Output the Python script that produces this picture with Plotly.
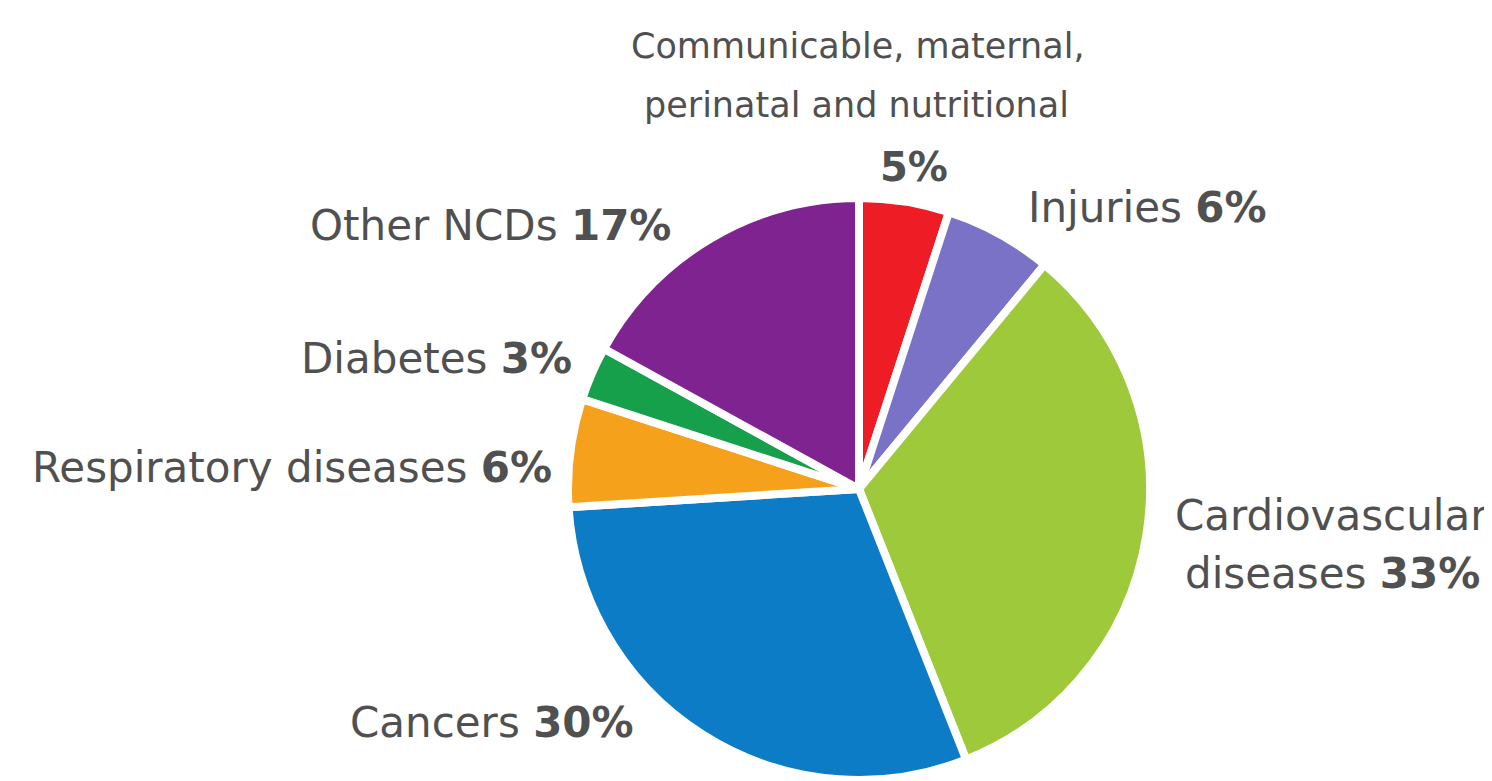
import plotly.graph_objects as go

categories = ["Communicable, maternal, perinatal and nutritional", "Injuries",
              "Cardiovascular diseases", "Cancers", "Respiratory diseases",
              "Diabetes", "Other NCDs"]
values = [5, 6, 33, 30, 6, 3, 17]
colors = ["#ee1c25", "#7a72c6", "#9dc93a", "#0c7cc6", "#f6a11c", "#17a04b", "#7f2391"]
# label text lines (name part, bold percent part)
label_lines = [
    [("Communicable, maternal,", ""), ("perinatal and nutritional", ""), ("", "5%")],
    [("Injuries ", "6%")],
    [("Cardiovascular", ""), ("diseases ", "33%")],
    [("Cancers ", "30%")],
    [("Respiratory diseases ", "6%")],
    [("Diabetes ", "3%")],
    [("Other NCDs ", "17%")],
]

W, H = 1492, 781
cx, cy, r = 851, 481, 291

fig = go.Figure(go.Pie(
    labels=categories, values=values, sort=False, direction="clockwise",
    rotation=0, textinfo="none", hoverinfo="label+percent",
    marker=dict(colors=colors, line=dict(color="white", width=8)),
    domain=dict(x=[(cx - r) / W, (cx + r) / W], y=[(H - cy - r) / H, (H - cy + r) / H]),
    showlegend=False,
))

# per label: x anchor, list of (x, y, font size) per line
placement = [
    ("center", [(850, 38, 35), (848, 97, 35), (906, 159, 40)]),
    ("left", [(1018, 199, 42)]),
    ("center", [(1323, 507, 42), (1324, 565, 42)]),
    ("right", [(628, 714, 42)]),
    ("right", [(546, 459, 42)]),
    ("right", [(566, 351, 42)]),
    ("right", [(665, 217, 42)]),
]
for lines, (anchor, xy) in zip(label_lines, placement):
    for (name, pct), (px, py, fs) in zip(lines, xy):
        txt = name + (f"<b>{pct}</b>" if pct else "")
        fig.add_annotation(
            x=px / W, y=1 - py / H, xref="paper", yref="paper",
            text=txt, showarrow=False, xanchor=anchor, yanchor="middle",
            font=dict(family="DejaVu Sans", size=fs, color="#505050"),
        )

fig.update_layout(
    width=W, height=H, margin=dict(l=0, r=0, t=0, b=0),
    paper_bgcolor="white", plot_bgcolor="white",
)
fig.write_html("out.html")
